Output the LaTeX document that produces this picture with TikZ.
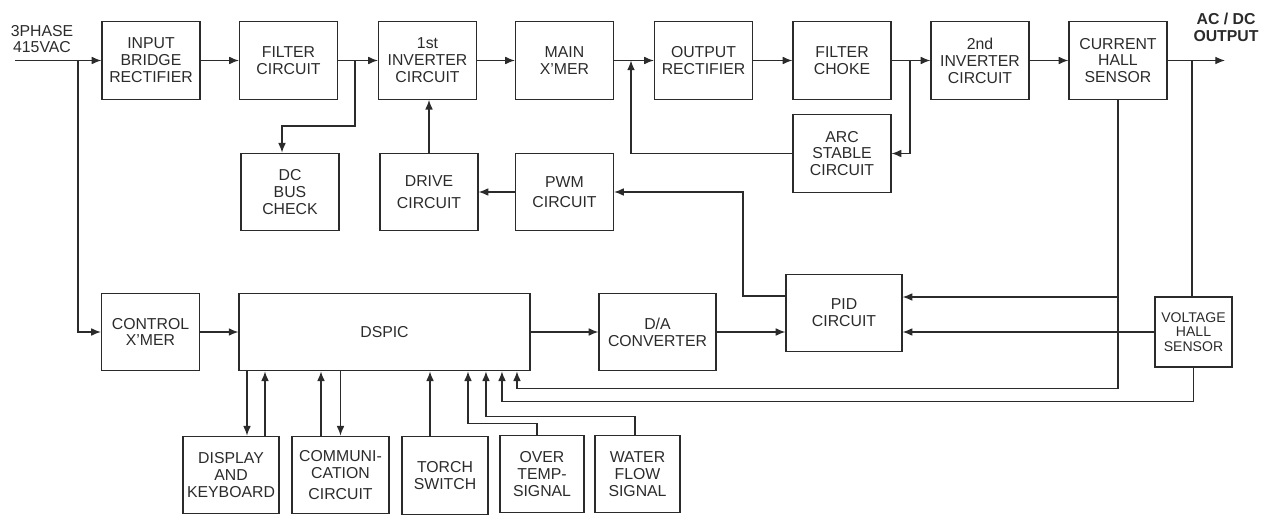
\documentclass[tikz,border=0pt]{standalone}
\usepackage{fontspec}
\setmainfont{Liberation Sans}
\usetikzlibrary{arrows.meta}
\definecolor{nero}{HTML}{2B2B2B}
\tikzset{
  blocco/.style={draw=nero, line width=0.7pt, text=nero, align=center, inner sep=0pt,
    minimum width=1.96cm, minimum height=1.55cm, font=\fontsize{9}{9.6}\selectfont},
  linea/.style={draw=nero, line width=0.7pt},
  >={Latex[length=5.5pt,width=4.4pt]}
}
\begin{document}
\begin{tikzpicture}[x=0.02cm,y=-0.02cm]
        \useasboundingbox (0,0) rectangle (1277,517);
        % Catena di potenza
        \node[blocco] (ponte) at (151,60.5) {INPUT\\BRIDGE\\RECTIFIER};
        \node[blocco] (filtro) at (288.5,60.5) {FILTER\\CIRCUIT};
        \node[blocco] (inv1) at (427.5,60.5) {1st\\INVERTER\\CIRCUIT};
        \node[blocco] (trasf) at (564.5,60.5) {MAIN\\X'MER};
        \node[blocco] (raddr) at (703.5,60.5) {OUTPUT\\RECTIFIER};
        \node[blocco] (choke) at (842,60.5) {FILTER\\CHOKE};
        \node[blocco] (inv2) at (980,60.5) {2nd\\INVERTER\\CIRCUIT};
        \node[blocco] (hallI) at (1118,60.5) {CURRENT\\HALL\\SENSOR};
        \node[text=nero, align=center, font=\fontsize{9}{9.6}\selectfont] (ingresso) at (42,39) {3PHASE\\415VAC};
        \node[text=nero, align=center, font=\fontsize{9}{9.6}\selectfont\bfseries] (uscita) at (1226,27) {AC / DC\\OUTPUT};
        \coordinate (rete) at (15,60.5);
        \coordinate (fine) at (1225,60.5);
        \foreach \a/\b in {rete/ponte, ponte/filtro, filtro/inv1, inv1/trasf, trasf/raddr, raddr/choke, choke/inv2, inv2/hallI, hallI/fine}
          \draw[linea,->] (\a) -- (\b);
        % Blocchi ausiliari
        \node[blocco] (dcbus) at (290,192) {DC\\BUS\\CHECK};
        \node[blocco] (drive) at (429,192) {DRIVE\\[3pt]CIRCUIT};
        \node[blocco] (pwm) at (564.5,192) {PWM\\[2pt]CIRCUIT};
        \node[blocco] (arc) at (842,153.5) {ARC\\STABLE\\CIRCUIT};
        \coordinate (jin) at (78,60.5);
        \coordinate (jdc) at (355,60.5);
        \coordinate (jarcIn) at (910,60.5);
        \coordinate (jarcOut) at (631,60.5);
        \coordinate (jout) at (1192,60.5);
        \coordinate (kpwm) at (743,192);
        \draw[linea,->] (jdc) -- ++(0,65.5) -| ([xshift=-0.16cm]dcbus.north);
        \draw[linea,->] (drive.north) -- (drive.north |- inv1.south);
        \draw[linea,->] (pwm) -- (drive);
        \draw[linea,->] (jarcIn) |- (arc.east);
        \draw[linea,->] (arc.west) -| (jarcOut);
        % Controllo
        \node[blocco] (ctrl) at (150.5,332) {CONTROL\\X'MER};
        \node[blocco, minimum width=5.82cm] (dspic) at (384.5,332) {DSPIC};
        \node[blocco, minimum width=2.34cm] (da) at (657.5,332) {D/A\\CONVERTER};
        \node[blocco, minimum width=2.32cm] (pid) at (844,313) {PID\\CIRCUIT};
        \node[blocco, minimum width=1.54cm, minimum height=1.4cm, font=\fontsize{8}{8.4}\selectfont] (hallV) at (1193.5,332) {VOLTAGE\\HALL\\SENSOR};
        \draw[linea,->] (jin) |- (ctrl.west);
        \draw[linea,->] (ctrl) -- (dspic);
        \draw[linea,->] (dspic) -- (da);
        \draw[linea,->] (da.east) -- (da.east -| pid.west);
        \draw[linea,->] ([yshift=0.34cm]pid.west) -| (kpwm) -- (pwm.east);
        % Retroazione
        \coordinate (pidA) at ([yshift=0.32cm]pid.east);
        \draw[linea] (jout) -- (jout |- hallV.north);
        \draw[linea,->] (hallV.west) -- (hallV.west -| pid.east);
        \draw[linea,->] (hallI.south |- pidA) -- (pidA);
        \draw[linea,->] (hallI.south) -- ++(0,289) -| ([xshift=2.65cm]dspic.south);
        \draw[linea,->] (hallV.south) -- ++(0,34) -| ([xshift=2.35cm]dspic.south);
        % Periferiche
        \node[blocco, minimum width=1.92cm] (display) at (231,475) {DISPLAY\\AND\\KEYBOARD};
        \node[blocco, minimum width=1.94cm] (comm) at (340.5,475) {COMMUNI-\\CATION\\[2pt]CIRCUIT};
        \node[blocco, minimum width=1.72cm] (torcia) at (445,475.5) {TORCH\\SWITCH};
        \node[blocco, minimum width=1.68cm] (temp) at (542,474) {OVER\\TEMP-\\SIGNAL};
        \node[blocco, minimum width=1.70cm] (acqua) at (637.5,474) {WATER\\FLOW\\SIGNAL};
        \coordinate (d1) at ([xshift=0.32cm]display.north);
        \coordinate (d2) at ([xshift=0.68cm]display.north);
        \coordinate (c1) at ([xshift=-0.39cm]comm.north);
        \coordinate (c2) at (comm.north);
        \coordinate (t1) at ([xshift=-0.3cm]torcia.north);
        \draw[linea,->] (dspic.south -| d1) -- (d1);
        \draw[linea,->] (d2) -- (dspic.south -| d2);
        \draw[linea,->] (c1) -- (dspic.south -| c1);
        \draw[linea,->] (dspic.south -| c2) -- (c2);
        \draw[linea,->] (t1) -- (dspic.south -| t1);
        \draw[linea,->] ([xshift=-0.1cm]temp.north) -- ++(0,-11) -| ([xshift=1.67cm]dspic.south);
        \draw[linea,->] ([xshift=-0.05cm]acqua.north) -- ++(0,-18) -| ([xshift=2.03cm]dspic.south);
    \end{tikzpicture}
\end{document}
